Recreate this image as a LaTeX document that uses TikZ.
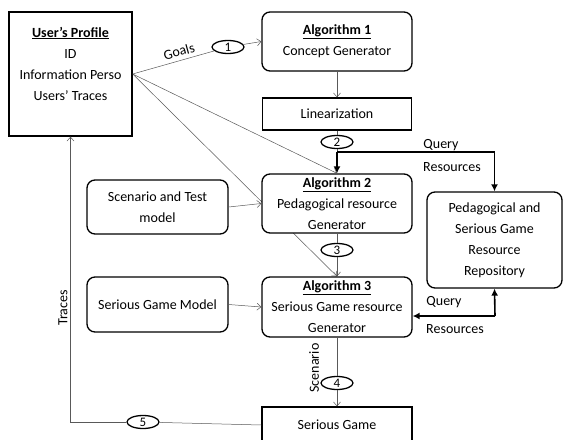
\documentclass[tikz,border=0pt]{standalone}
\usepackage{fontspec}
\setmainfont{Carlito}
\usetikzlibrary{arrows.meta,shapes.geometric,backgrounds}

\begin{document}
\begin{tikzpicture}[
  x=1pt,y=-1pt,
  font=\fontsize{14}{21}\selectfont,
  box/.style={draw,line width=1.3pt,fill=white,align=center,inner sep=2pt},
  rbox/.style={box,rounded corners=8pt},
  num/.style={draw,ellipse,line width=1.3pt,fill=white,minimum width=32pt,minimum height=13pt,inner sep=0pt,font=\fontsize{13}{13}\selectfont},
  link/.style={black!65,line width=0.5pt},
  arr/.style={link,-{Straight Barb[length=4pt,width=7pt]}},
  bigarr/.style={-{Latex[length=7pt,width=7pt]},line width=1.6pt},
  lbl/.style={inner sep=1pt,text=black}
]
\useasboundingbox (0,0) rectangle (564,439);
% boxes
\node[box,minimum width=123pt,minimum height=124pt] (profile) at (70.5,74) {\underline{\textbf{User's Profile}}\\ID\\Information Perso\\Users' Traces\\\mbox{}};
\node[rbox,minimum width=150pt,minimum height=59pt] (alg1) at (337,41.5) {\underline{\textbf{Algorithm 1}}\\Concept Generator};
\node[box,minimum width=149pt,minimum height=32pt] (lin) at (337,114) {Linearization};
\node[rbox,minimum width=150pt,minimum height=59pt] (alg2) at (337,203.5) {\underline{\textbf{Algorithm 2}}\\Pedagogical resource\\Generator};
\node[rbox,minimum width=150pt,minimum height=60pt] (alg3) at (337,307) {\underline{\textbf{Algorithm 3}}\\Serious Game resource\\Generator};
\node[box,minimum width=150pt,minimum height=36pt] (sg) at (337,425) {Serious Game};
\node[rbox,minimum width=141pt,minimum height=54pt] (scen) at (157.5,207) {Scenario and Test\\model};
\node[rbox,minimum width=141pt,minimum height=55pt] (sgm) at (157.5,304.5) {Serious Game Model};
\node[rbox,minimum width=135pt,minimum height=96pt] (repo) at (494.5,240) {Pedagogical and\\Serious Game\\Resource\\Repository};
% numbered steps
\node[num] (c1) at (228,47) {1};
\node[num] (c2) at (337,142) {2};
\node[num] (c3) at (337,250) {3};
\node[num] (c4) at (337,383) {4};
\node[num] (c5) at (143,422) {5};
\coordinate (q1) at (337,152);
\coordinate (q2) at (495,316);
% profile links
\begin{pgfonlayer}{background}
\draw[arr] (profile.east) -- (alg3.north);
\end{pgfonlayer}
\draw[link] (profile.east) -- node[lbl,sloped,above=3pt,pos=0.6] (goals) {Goals} (c1);
\draw[arr] (c1) -- (alg1.west);
\draw[arr] (profile.east) -- (alg2.north);
% main chain
\draw[arr] (alg1) -- (lin);
\draw[link] (lin) -- (c2) -- (q1);
\draw[bigarr] (q1) -- (alg2.north);
\draw[bigarr] (q1) -| (repo.north);
\node[lbl] (query1) at (441,145) {Query};
\node[lbl] (res1) at (452,167) {Resources};
\draw[arr] (scen.east) -- (alg2.west);
\draw[link] (alg2) -- (c3);
\draw[arr] (c3) -- (alg3);
\draw[arr] (sgm.east) -- (alg3.west);
\draw[bigarr] (q2) -- (alg3.east |- q2);
\draw[bigarr] (q2) -- (repo.south);
\node[lbl] (query2) at (444,302) {Query};
\node[lbl] (res2) at (455,329) {Resources};
\draw[link] (alg3) -- (c4);
\draw[arr] (c4) -- (sg);
\node[lbl,rotate=90] (scenario) at (314,368) {Scenario};
% traces back to the profile
\draw[link] (sg.west) -- (c5);
\draw[arr] (c5) -| (profile.south);
\node[lbl,rotate=90] (traces) at (63,308) {Traces};
\end{tikzpicture}
\end{document}
